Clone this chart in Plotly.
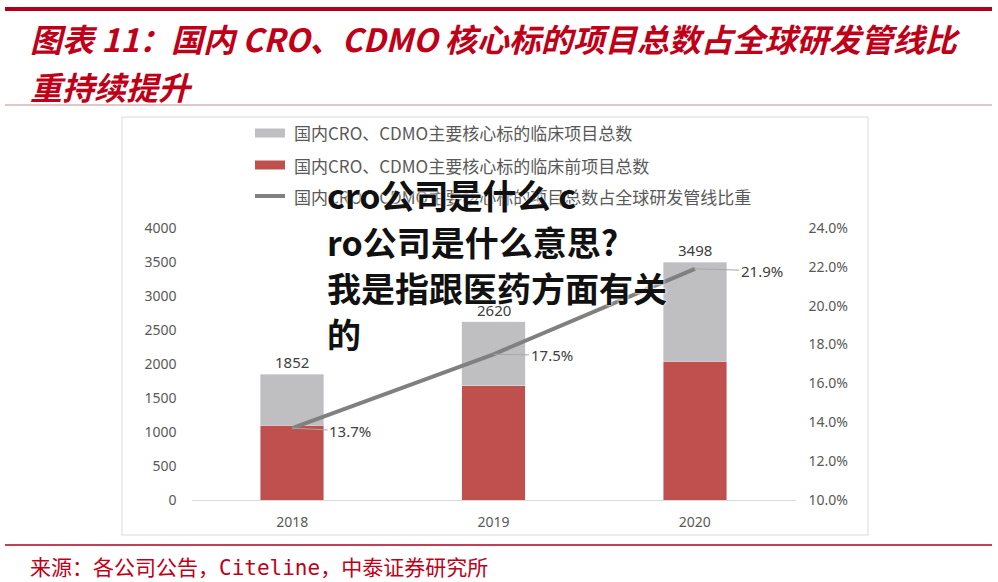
import plotly.graph_objects as go

W, H = 998, 582

years = ["2018", "2019", "2020"]
totals = [1852, 2620, 3498]
preclinical = [1100, 1680, 2040]
clinical = [t - p for t, p in zip(totals, preclinical)]
share = [13.7, 17.5, 21.9]

legend_names = [
    "国内CRO、CDMO主要核心标的临床项目总数",
    "国内CRO、CDMO主要核心标的临床前项目总数",
    "国内CRO、CDMO主要核心标的项目总数占全球研发管线比重",
]
title_lines = ["图表 11：国内 CRO、CDMO 核心标的项目总数占全球研发管线比", "重持续提升"]
source_text = "来源：各公司公告，Citeline，中泰证券研究所"
overlay_lines = ["cro公司是什么 c", "ro公司是什么意思?", "我是指跟医药方面有关", "的"]

GRAY = "#bfbfc2"
RED = "#c0504d"
LINE = "#808080"
TXT = "#595959"
TITLE_RED = "#c00018"
FONT = "Noto Sans, Noto Sans CJK SC, sans-serif"
CJK = "Noto Sans CJK SC"
MONO = "DejaVu Sans Mono, Noto Sans CJK SC"


def px(x):
    return x / W


def py(y):
    return 1 - y / H


fig = go.Figure()
fig.add_trace(go.Bar(x=years, y=preclinical, name=legend_names[1], marker_color=RED,
                     width=0.315, showlegend=False, hoverinfo="skip"))
fig.add_trace(go.Bar(x=years, y=clinical, name=legend_names[0], marker_color=GRAY,
                     width=0.315, showlegend=False, hoverinfo="skip"))
fig.add_trace(go.Scatter(x=years, y=share, name=legend_names[2], yaxis="y2", mode="lines",
                         line=dict(color=LINE, width=4), showlegend=False, hoverinfo="skip"))

ann = []
ann.append(dict(x=px(28), y=py(38), xref="paper", yref="paper", text=f"<b><i>{title_lines[0]}</i></b>",
                showarrow=False, xanchor="left", yanchor="middle",
                font=dict(family=CJK, size=32, color=TITLE_RED)))
ann.append(dict(x=px(28), y=py(86), xref="paper", yref="paper", text=f"<b><i>{title_lines[1]}</i></b>",
                showarrow=False, xanchor="left", yanchor="middle",
                font=dict(family=CJK, size=32, color=TITLE_RED)))
ann.append(dict(x=px(28), y=py(568), xref="paper", yref="paper", text=source_text,
                showarrow=False, xanchor="left", yanchor="middle",
                font=dict(family=MONO, size=21, color=TITLE_RED)))

leg_y = [133, 165, 196]
shapes = []
for i, (name, yy) in enumerate(zip(legend_names, leg_y)):
    if i < 2:
        shapes.append(dict(type="rect", xref="paper", yref="paper", x0=px(255), x1=px(285),
                           y0=py(yy + 4.5), y1=py(yy - 4.5), fillcolor=[GRAY, RED][i], line=dict(width=0)))
    else:
        shapes.append(dict(type="line", xref="paper", yref="paper", x0=px(255), x1=px(285),
                           y0=py(yy), y1=py(yy), line=dict(color=LINE, width=4)))
    ann.append(dict(x=px(292), y=py(yy), xref="paper", yref="paper", text=name, showarrow=False,
                    xanchor="left", yanchor="middle", font=dict(family=CJK, size=17, color=TXT)))

for i, (line, yy) in enumerate(zip(overlay_lines, [195, 241, 287, 333])):
    ann.append(dict(x=px(325), y=py(yy), xref="paper", yref="paper", text=f"<b>{line}</b>",
                    showarrow=False, xanchor="left", yanchor="middle",
                    font=dict(family=CJK, size=34, color="#111111", weight=900,
                              shadow="0 0 3px #ffffff, 0 0 2px #ffffff")))

# data labels (drawn last so they stay readable)
for i, t in enumerate(totals):
    ann.append(dict(x=i, y=t, xref="x", yref="y", text=str(t), showarrow=False,
                    yanchor="bottom", yshift=0, font=dict(family=FONT, size=15, color="#404040")))
offsets = [(58, 3), (58, 1), (67, 2)]
for i, (s, (ax, ay)) in enumerate(zip(share, offsets)):
    ann.append(dict(x=i, y=s, xref="x", yref="y2", text=f"{s:.1f}%", showarrow=True,
                    arrowhead=0, arrowwidth=1, arrowcolor="#a6a6a6", ax=ax, ay=ay,
                    standoff=0, font=dict(family=FONT, size=15, color="#404040")))

shapes += [
    dict(type="line", xref="paper", yref="paper", x0=px(5), x1=px(992), y0=py(9), y1=py(9),
         line=dict(color="#b0001c", width=4)),
    dict(type="line", xref="paper", yref="paper", x0=px(5), x1=px(992), y0=py(105), y1=py(105),
         line=dict(color="#e3c6c8", width=2)),
    dict(type="line", xref="paper", yref="paper", x0=px(5), x1=px(992), y0=py(545), y1=py(545),
         line=dict(color="#b0001c", width=1.5)),
    dict(type="rect", xref="paper", yref="paper", x0=px(122), x1=px(868), y0=py(535), y1=py(117),
         line=dict(color="#d9d9d9", width=1), layer="below"),
]

fig.update_layout(
    width=W, height=H, autosize=False,
    margin=dict(l=0, r=0, t=0, b=0, pad=0, autoexpand=False),
    paper_bgcolor="white", plot_bgcolor="white",
    barmode="stack", showlegend=False,
    xaxis=dict(type="category", range=[-0.5, 2.5], domain=[px(191.5), px(795.5)], showgrid=False,
               showline=True, linecolor="#d9d9d9", linewidth=1, ticks="", automargin=False,
               tickfont=dict(family=FONT, size=14, color=TXT), ticklabelstandoff=9, fixedrange=True),
    yaxis=dict(domain=[py(500), py(228)], range=[0, 4000], dtick=500, showgrid=False, zeroline=False,
               showline=False, ticks="", automargin=False,
               tickfont=dict(family=FONT, size=14, color=TXT), ticklabelstandoff=14),
    yaxis2=dict(domain=[py(500), py(228)], overlaying="y", side="right", range=[10, 24], dtick=2,
                tickformat=".1f", ticksuffix="%", showgrid=False, zeroline=False, showline=False,
                ticks="", automargin=False, tickfont=dict(family=FONT, size=14, color=TXT),
                ticklabelstandoff=12, anchor="x"),
    annotations=ann, shapes=shapes,
)

fig.write_html("out.html", config={"responsive": False, "displayModeBar": False},
               default_width="998px", default_height="582px",
               post_script="document.body.style.margin='0';document.body.style.overflow='hidden';")
